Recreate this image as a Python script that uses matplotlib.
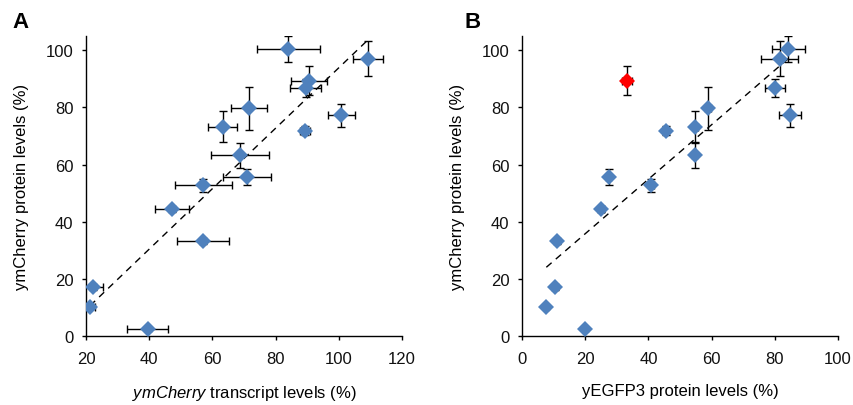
import numpy as np
import matplotlib
matplotlib.use("Agg")
import matplotlib.pyplot as plt

plt.rcParams['font.family'] = ['Liberation Sans', 'DejaVu Sans']
plt.rcParams['mathtext.fontset'] = 'custom'
plt.rcParams['mathtext.rm'] = 'Liberation Sans'
plt.rcParams['mathtext.it'] = 'Liberation Sans:italic'
plt.rcParams['mathtext.bf'] = 'Liberation Sans:bold'

# Shared y values: ymCherry protein levels (%)
protein = [100.5, 97.1, 89.4, 86.7, 79.7, 73.3, 71.9, 77.2, 63.2, 55.8, 52.7, 44.4, 33.2, 17.1, 10.2, 2.4]
protein_err = [4.6, 6.0, 5.2, 3.2, 7.5, 5.3, 1.5, 4.0, 4.5, 2.8, 2.2, 1.0, 1.0, 1.0, 0.8, 0.5]

# Panel A: ymCherry transcript levels (%)
transcript = [84.0, 109.3, 90.6, 89.5, 71.6, 63.2, 89.3, 100.8, 68.7, 71.1, 57.1, 47.2, 57.1, 22.3, 21.3, 39.6]
transcript_err = [10.0, 4.8, 5.8, 4.9, 5.6, 4.7, 1.5, 4.3, 9.3, 7.6, 9.0, 5.3, 8.2, 3.0, 1.5, 6.5]

# Panel B: yEGFP3 protein levels (%)
egfp = [84.3, 81.5, 33.2, 80.0, 58.9, 54.8, 45.7, 84.8, 54.7, 27.5, 40.9, 25.0, 11.2, 10.5, 7.7, 19.9]
egfp_err = [5.1, 6.0, 1.5, 3.2, 1.0, 0.8, 0.8, 3.5, 0.8, 0.8, 0.8, 0.8, 0.5, 0.5, 0.5, 0.5]
highlight_B = [False, False, True, False, False, False, False, False, False, False, False, False, False, False, False, False]

BLUE = '#4F81BD'
RED = '#FF0000'

W, H = 854, 406
fig = plt.figure(figsize=(W / 100, H / 100), dpi=100)

axA = fig.add_axes([86 / W, 69 / H, 316 / W, 300 / H])
axB = fig.add_axes([522 / W, 69 / H, 316 / W, 300 / H])


def style(ax, xlim, xticks):
    ax.set_xlim(*xlim)
    ax.set_ylim(0, 105)
    ax.set_xticks(xticks)
    ax.set_yticks([0, 20, 40, 60, 80, 100])
    for s in ['top', 'right']:
        ax.spines[s].set_visible(False)
    for s in ['left', 'bottom']:
        ax.spines[s].set_linewidth(1.0)
    ax.tick_params(axis='both', direction='out', length=3, width=1, labelsize=12)
    ax.tick_params(axis='y', pad=6)
    ax.tick_params(axis='x', pad=8)
    for lab in ax.get_xticklabels() + ax.get_yticklabels():
        lab.set_color('#111111')


def trend(ax, x, y):
    x = np.asarray(x)
    y = np.asarray(y)
    k, b = np.polyfit(x, y, 1)
    xs = np.array([x.min(), x.max()])
    ax.plot(xs, k * xs + b, color='black', lw=1.0, linestyle=(0, (5, 4)), zorder=2)


MS = 8.0

# Panel A
style(axA, (20, 120), [20, 40, 60, 80, 100, 120])
axA.errorbar(transcript, protein, xerr=transcript_err, yerr=protein_err, fmt='none',
             ecolor='black', elinewidth=1.0, capsize=2.8, capthick=1.0, zorder=3)
trend(axA, transcript, protein)
axA.plot(transcript, protein, linestyle='none', marker='D', markersize=MS,
         color=BLUE, markeredgewidth=0, zorder=4)
axA.set_ylabel('ymCherry protein levels (%)', fontsize=12, labelpad=12)
axA.set_xlabel(r'$\it{ymCherry}$ transcript levels (%)', fontsize=12, labelpad=12)

# Panel B
style(axB, (0, 100), [0, 20, 40, 60, 80, 100])
eg = np.array(egfp)
pr = np.array(protein)
eg_e = np.array(egfp_err)
pr_e = np.array(protein_err)
mask = np.array(highlight_B)
axB.errorbar(eg, pr, xerr=eg_e, yerr=pr_e, fmt='none',
             ecolor='black', elinewidth=1.0, capsize=2.8, capthick=1.0, zorder=3)
trend(axB, eg, pr)
axB.plot(eg[~mask], pr[~mask], linestyle='none', marker='D', markersize=MS,
         color=BLUE, markeredgewidth=0, zorder=4)
axB.plot(eg[mask], pr[mask], linestyle='none', marker='D', markersize=MS,
         color=RED, markeredgewidth=0, zorder=4)
axB.set_ylabel('ymCherry protein levels (%)', fontsize=12, labelpad=12)
axB.set_xlabel('yEGFP3 protein levels (%)', fontsize=12, labelpad=12)

fig.text(12 / W, 1 - 28 / H, 'A', fontsize=16, fontweight='bold', va='baseline', ha='left')
fig.text(465 / W, 1 - 28 / H, 'B', fontsize=16, fontweight='bold', va='baseline', ha='left')

fig.savefig('out.png', dpi=100)
